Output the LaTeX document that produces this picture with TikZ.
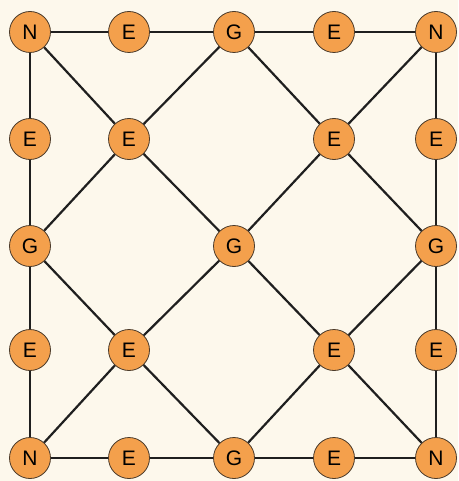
\documentclass[tikz,border=0pt]{standalone}
\usepackage{fontspec}
\setmainfont{Liberation Sans}
\definecolor{paper}{HTML}{FDF8EC}
\definecolor{vfill}{HTML}{F4A04C}
\definecolor{vline}{HTML}{4A3A2A}
\tikzset{
    vert/.style={circle, draw=vline, line width=0.8pt, fill=vfill, minimum size=41pt, inner sep=0pt, font=\fontsize{21}{21}\selectfont},
    edge/.style={line width=2.2pt, black!88}
}

\begin{document}
\begin{tikzpicture}[x=1pt, y=-1pt]
    % Background
    \fill[paper] (0,0) rectangle (458,481);
    \useasboundingbox (0,0) rectangle (458,481);
    
    % Top row
    \node[vert] (n1) at (30,32) {N};
    \node[vert] (e1) at (129,32) {E};
    \node[vert] (g1) at (234,32) {G};
    \node[vert] (e2) at (334,32) {E};
    \node[vert] (n2) at (436,32) {N};
    
    % Second row
    \node[vert] (e3) at (30,139) {E};
    \node[vert] (e4) at (129,139) {E};
    \node[vert] (e5) at (334,139) {E};
    \node[vert] (e6) at (436,139) {E};
    
    % Middle row
    \node[vert] (g2) at (30,246) {G};
    \node[vert] (g3) at (234,246) {G};
    \node[vert] (g4) at (436,246) {G};
    
    % Fourth row
    \node[vert] (e7) at (30,350) {E};
    \node[vert] (e8) at (129,350) {E};
    \node[vert] (e9) at (334,350) {E};
    \node[vert] (e10) at (436,350) {E};
    
    % Bottom row
    \node[vert] (n3) at (30,458) {N};
    \node[vert] (e11) at (129,458) {E};
    \node[vert] (g5) at (234,458) {G};
    \node[vert] (e12) at (334,458) {E};
    \node[vert] (n4) at (436,458) {N};
    
    % Border
    \draw[edge] (n1) -- (e1) -- (g1) -- (e2) -- (n2);
    \draw[edge] (n3) -- (e11) -- (g5) -- (e12) -- (n4);
    \draw[edge] (n1) -- (e3) -- (g2) -- (e7) -- (n3);
    \draw[edge] (n2) -- (e6) -- (g4) -- (e10) -- (n4);
    
    % Diagonals
    \draw[edge] (n1) -- (e4) -- (g3) -- (e9) -- (n4);
    \draw[edge] (n2) -- (e5) -- (g3) -- (e8) -- (n3);
    
    % Diamond
    \draw[edge] (g1) -- (e4) -- (g2) -- (e8) -- (g5) -- (e9) -- (g4) -- (e5) -- (g1);
\end{tikzpicture}
\end{document}
